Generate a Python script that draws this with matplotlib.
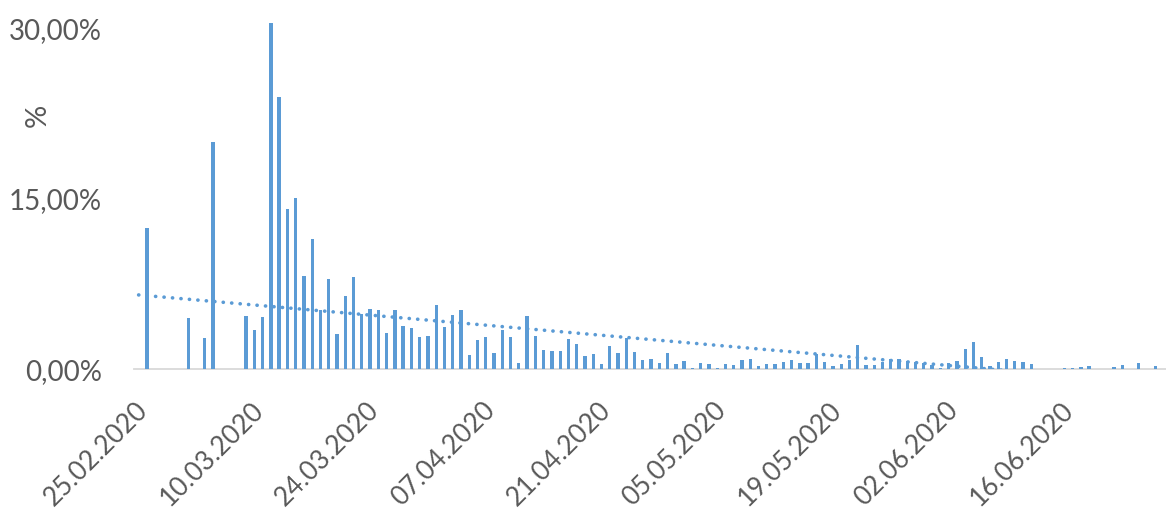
import numpy as np
import pandas as pd
import matplotlib
matplotlib.use('Agg')
from matplotlib import pyplot as plt
import matplotlib.dates as mdates
import matplotlib.transforms as mtransforms

# daily share in %, one value per day starting at start_date
start_date = '2020-02-25'
share = [12.47, 0, 0, 0, 0, 4.53, 0, 2.76, 20.0, 0,
         0, 0, 4.68, 3.44, 4.62, 30.5, 24.0, 14.1, 15.1, 8.2,
         11.5, 5.2, 7.9, 3.06, 6.44, 8.1, 4.83, 5.3, 5.2, 3.15,
         5.2, 3.77, 3.6, 2.82, 2.88, 5.65, 3.68, 4.8, 5.2, 1.24,
         2.53, 2.8, 1.41, 3.47, 2.82, 0.53, 4.65, 2.88, 1.65, 1.62,
         1.56, 2.62, 2.2, 1.12, 1.3, 0.47, 2.03, 1.41, 2.75, 1.47,
         0.79, 0.85, 0.5, 1.44, 0.44, 0.7, 0.12, 0.5, 0.44, 0.09,
         0.41, 0.35, 0.79, 0.88, 0.29, 0.44, 0.41, 0.62, 0.77, 0.5,
         0.56, 1.35, 0.62, 0.26, 0.44, 0.77, 2.15, 0.35, 0.4, 0.6,
         0.85, 0.85, 0.7, 0.6, 0.55, 0.4, 0.1, 0.5, 0.75, 1.76,
         2.41, 1.03, 0.26, 0.59, 0.91, 0.68, 0.62, 0.41, 0, 0,
         0, 0.09, 0.06, 0.18, 0.26, 0, 0, 0.18, 0.35, 0,
         0.5, 0, 0.26]
tick_labels = ['25.02.2020', '10.03.2020', '24.03.2020', '07.04.2020', '21.04.2020',
               '05.05.2020', '19.05.2020', '02.06.2020', '16.06.2020']
ytick_vals = [0, 15, 30]
ytick_labels = ['0,00%', '15,00%', '30,00%']

blue = '#5B9BD5'
grey = '#595959'
font = 'Lato'

dates = pd.date_range(start_date, periods=len(share), freq='D')
x = mdates.date2num(dates)
vals = np.array(share, dtype=float)

fig = plt.figure(figsize=(11.66, 5.14), dpi=100)
ax = fig.add_axes([0.115, 0.282, 0.885, 0.675])

ax.bar(x, vals, width=0.4, color=blue, zorder=2)

# linear trend line (Excel style)
k, b = np.polyfit(x, vals, 1)
xt = np.linspace(x[0] - 1, x[-1], 200)
ax.plot(xt, k * xt + b, color=blue, lw=2.6, linestyle=(0, (0.05, 2.3)),
        dash_capstyle='round', zorder=3)

ax.set_xlim(x[0] - 1.55, x[-1] + 1.3)
ax.set_ylim(0, 30.6)

ticks = mdates.date2num(pd.to_datetime(tick_labels, format='%d.%m.%Y'))
ax.set_xticks(ticks)
ax.set_xticklabels([])
offset = mtransforms.ScaledTranslation(-0.03, -0.37, fig.dpi_scale_trans)
for t, lab in zip(ticks, tick_labels):
    ax.text(t, 0, lab, transform=ax.get_xaxis_transform() + offset,
            rotation=45, ha='right', va='center', rotation_mode='anchor',
            fontsize=19, color=grey, family=font)

ax.set_yticks(ytick_vals)
ax.set_yticklabels(ytick_labels, fontsize=20, color=grey, family=font)
ax.tick_params(axis='both', length=0)
ax.tick_params(axis='y', pad=23)

ax.set_ylabel('%', fontsize=21, color=grey, family=font)
ax.yaxis.set_label_coords(-0.081, 0.73)

for s in ['top', 'right', 'left']:
    ax.spines[s].set_visible(False)
ax.spines['bottom'].set_color('#D9D9D9')
ax.spines['bottom'].set_linewidth(1.3)
ax.spines['bottom'].set_zorder(1)

fig.savefig('out.png', dpi=100)
